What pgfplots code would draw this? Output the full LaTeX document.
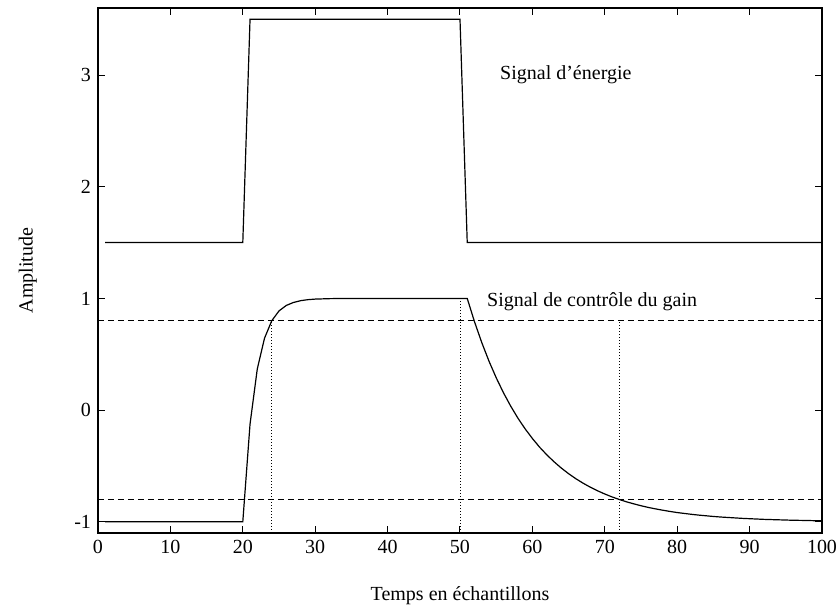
\documentclass[border=0pt]{standalone}
\usepackage{fontspec}
\setmainfont{Liberation Serif}
\usepackage{pgfplots}
\pgfplotsset{compat=1.18}
\usetikzlibrary{calc}

\begin{document}
\begin{tikzpicture}
\begin{axis}[
    name=ax,
    scale only axis,
    width=362pt, height=262.5pt,
    xmin=0, xmax=100,
    ymin=-1.1, ymax=3.6,
    xtick={0,10,...,100},
    ytick={-1,0,1,2,3},
    tick align=inside,
    major tick length=3.5pt,
    tick style={black, line width=0.5pt},
    axis line style={line width=0.6pt},
    xlabel={Temps en échantillons},
    ylabel={Amplitude},
    xlabel style={at={(axis description cs:0.5,-0.12)}, anchor=center},
    ylabel style={at={(axis description cs:-0.097,0.5)}, anchor=center},
    /pgf/number format/assume math mode=true,
    font=\fontsize{10}{12}\selectfont,
    clip=false,
]
% signal d'energie
\addplot[black, line width=0.6pt] coordinates {
(1,1.5)(20,1.5)(21,3.5)(50,3.5)(51,1.5)(100,1.5)
};
% signal de controle du gain
\addplot[black, line width=0.6pt] coordinates {
(1,-1)(20,-1)(21,-0.125)(22,0.368)(23,0.644)(24,0.8)(25,0.888)(26,0.937)
(27,0.964)(28,0.98)(29,0.989)(30,0.994)(31,0.996)(32,0.998)(33,0.999)(34,1)
(51,1)(52,0.792)(53,0.606)(54,0.439)(55,0.290)(56,0.156)(57,0.036)(58,-0.072)
(59,-0.168)(60,-0.254)(61,-0.332)(62,-0.401)(63,-0.463)(64,-0.519)(65,-0.569)
(66,-0.614)(67,-0.654)(68,-0.690)(69,-0.722)(70,-0.751)(71,-0.777)(72,-0.800)
(73,-0.821)(74,-0.839)(75,-0.856)(76,-0.871)(77,-0.884)(78,-0.896)(79,-0.907)
(80,-0.917)(81,-0.925)(82,-0.933)(83,-0.940)(84,-0.946)(85,-0.952)(86,-0.957)
(87,-0.961)(88,-0.965)(89,-0.969)(90,-0.972)(91,-0.975)(92,-0.978)(93,-0.980)
(94,-0.982)(95,-0.984)(96,-0.986)(97,-0.987)(98,-0.988)(99,-0.990)(100,-0.991)
};
% seuils
\addplot[black, line width=0.5pt, dash pattern=on 3pt off 2pt] coordinates {(0,0.8)(100,0.8)};
\addplot[black, line width=0.5pt, dash pattern=on 3pt off 2pt] coordinates {(0,-0.8)(100,-0.8)};
% reperes verticaux
\addplot[black, line width=0.4pt, dash pattern=on 0.5pt off 1pt] coordinates {(24,-1.1)(24,0.8)};
\addplot[black, line width=0.4pt, dash pattern=on 0.5pt off 1pt] coordinates {(50,-1.1)(50,1)};
\addplot[black, line width=0.4pt, dash pattern=on 0.5pt off 1pt] coordinates {(72,-1.1)(72,0.8)};
\node[anchor=west, inner sep=0pt] at (axis cs:55.5,3) {Signal d’énergie};
\node[anchor=west, inner sep=0pt] at (axis cs:53.7,0.97) {Signal de contrôle du gain};
\end{axis}
\pgfresetboundingbox
\path[use as bounding box] ($(ax.south west)+(-49pt,-36pt)$) rectangle ($(ax.north east)+(7.5pt,4pt)$);
\end{tikzpicture}
\end{document}
